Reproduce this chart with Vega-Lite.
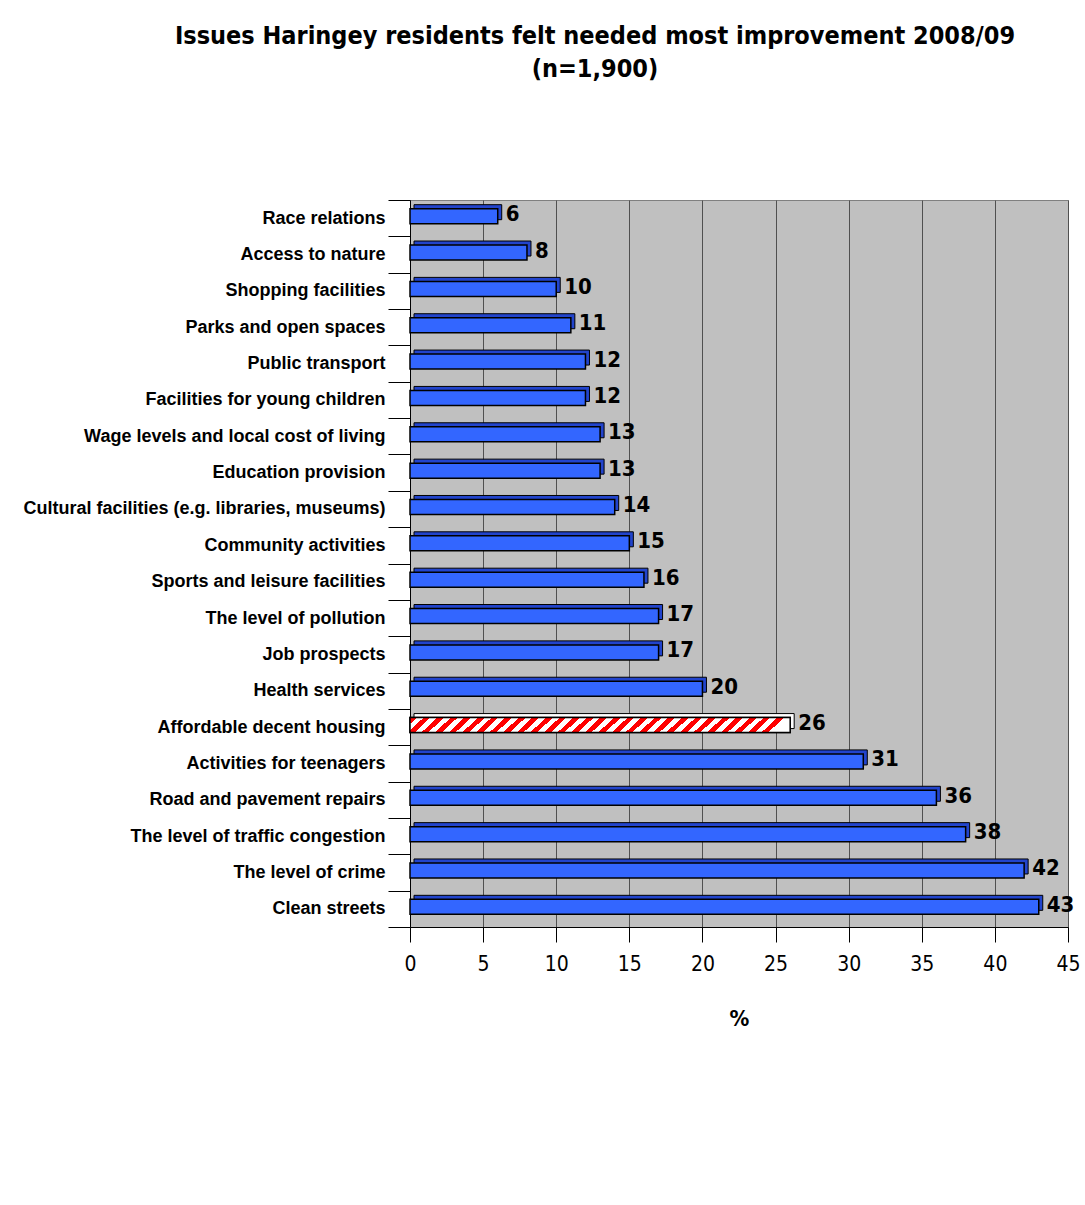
{
  "$schema": "https://vega.github.io/schema/vega-lite/v6.json",
  "autosize": "none",
  "width": 658,
  "height": 727,
  "padding": {"left": 410, "top": 200, "right": 17, "bottom": 278},
  "background": "white",
  "view": {"fill": "#c0c0c0", "stroke": "#808080", "strokeWidth": 1},
  "title": {
    "text": ["Issues Haringey residents felt needed most improvement  2008/09", "(n=1,900)"],
    "font": "DejaVu Sans Condensed, Liberation Sans Narrow, Liberation Sans",
    "fontSize": 25,
    "fontWeight": "bold",
    "color": "black",
    "lineHeight": 33,
    "anchor": "middle",
    "frame": "group",
    "dx": -144,
    "offset": 109
  },
  "data": {
    "values": [
      {"issue": "Race relations", "pct": 6, "highlight": false},
      {"issue": "Access to nature", "pct": 8, "highlight": false},
      {"issue": "Shopping facilities", "pct": 10, "highlight": false},
      {"issue": "Parks and open spaces", "pct": 11, "highlight": false},
      {"issue": "Public transport", "pct": 12, "highlight": false},
      {"issue": "Facilities for young children", "pct": 12, "highlight": false},
      {"issue": "Wage levels and local cost of living", "pct": 13, "highlight": false},
      {"issue": "Education provision", "pct": 13, "highlight": false},
      {"issue": "Cultural facilities (e.g. libraries, museums)", "pct": 14, "highlight": false},
      {"issue": "Community activities", "pct": 15, "highlight": false},
      {"issue": "Sports and leisure facilities", "pct": 16, "highlight": false},
      {"issue": "The level of pollution", "pct": 17, "highlight": false},
      {"issue": "Job prospects", "pct": 17, "highlight": false},
      {"issue": "Health services", "pct": 20, "highlight": false},
      {"issue": "Affordable decent housing", "pct": 26, "highlight": true},
      {"issue": "Activities for teenagers", "pct": 31, "highlight": false},
      {"issue": "Road and pavement repairs", "pct": 36, "highlight": false},
      {"issue": "The level of traffic congestion", "pct": 38, "highlight": false},
      {"issue": "The level of crime", "pct": 42, "highlight": false},
      {"issue": "Clean streets", "pct": 43, "highlight": false}
    ]
  },
  "encoding": {
    "y": {
      "field": "issue",
      "type": "nominal",
      "sort": null,
      "axis": {
        "title": null,
        "labelFont": "Liberation Sans",
        "labelFontSize": 18,
        "labelFontWeight": "bold",
        "labelColor": "black",
        "labelPadding": 3,
        "tickBand": "extent",
        "tickSize": 22,
        "tickColor": "black",
        "domainColor": "black",
        "labelLimit": 420
      }
    }
  },
  "layer": [
    {
      "mark": {"type": "rule", "color": "#808080", "strokeWidth": 10, "xOffset": 5},
      "encoding": {"x": {"datum": 0, "type": "quantitative"}}
    },
    {
      "mark": {"type": "bar", "size": 15, "xOffset": 4, "yOffset": -6, "stroke": "black", "strokeWidth": 1},
      "encoding": {
        "x": {
          "field": "pct",
          "type": "quantitative",
          "scale": {"domain": [0, 45], "nice": false},
          "axis": {
            "values": [0, 5, 10, 15, 20, 25, 30, 35, 40, 45],
            "title": "%",
            "titleFont": "DejaVu Sans Condensed, Liberation Sans Narrow, Liberation Sans",
            "titleFontSize": 22,
            "titleFontWeight": "bold",
            "titleColor": "black",
            "titlePadding": 34,
            "labelFont": "DejaVu Sans Condensed, Liberation Sans Narrow, Liberation Sans",
            "labelFontSize": 21,
            "labelColor": "black",
            "labelPadding": 11,
            "labelFlush": false,
            "tickSize": 15,
            "tickColor": "black",
            "domainColor": "black",
            "grid": true,
            "gridColor": "#505050",
            "gridWidth": 1
          }
        },
        "fill": {
          "condition": {"test": "datum.highlight", "value": "#ffffff"},
          "value": "#2244cc"
        }
      }
    },
    {
      "mark": {"type": "bar", "size": 15, "yOffset": -2, "fill": "#3366ff", "stroke": "black", "strokeWidth": 1.5},
      "encoding": {"x": {"field": "pct", "type": "quantitative"}}
    },
    {
      "transform": [{"filter": "datum.highlight"}],
      "mark": {
        "type": "bar",
        "size": 15,
        "yOffset": -2,
        "stroke": "black",
        "strokeWidth": 1.5,
        "fill": {
          "gradient": "linear",
          "x1": 0, "y1": 0, "x2": 1, "y2": 0.042,
          "stops": [
            {"offset": 0, "color": "red"}, {"offset": 0.017857, "color": "red"}, {"offset": 0.017857, "color": "white"}, {"offset": 0.035714, "color": "white"},
            {"offset": 0.035714, "color": "red"}, {"offset": 0.053571, "color": "red"}, {"offset": 0.053571, "color": "white"}, {"offset": 0.071429, "color": "white"},
            {"offset": 0.071429, "color": "red"}, {"offset": 0.089286, "color": "red"}, {"offset": 0.089286, "color": "white"}, {"offset": 0.107143, "color": "white"},
            {"offset": 0.107143, "color": "red"}, {"offset": 0.125, "color": "red"}, {"offset": 0.125, "color": "white"}, {"offset": 0.142857, "color": "white"},
            {"offset": 0.142857, "color": "red"}, {"offset": 0.160714, "color": "red"}, {"offset": 0.160714, "color": "white"}, {"offset": 0.178571, "color": "white"},
            {"offset": 0.178571, "color": "red"}, {"offset": 0.196429, "color": "red"}, {"offset": 0.196429, "color": "white"}, {"offset": 0.214286, "color": "white"},
            {"offset": 0.214286, "color": "red"}, {"offset": 0.232143, "color": "red"}, {"offset": 0.232143, "color": "white"}, {"offset": 0.25, "color": "white"},
            {"offset": 0.25, "color": "red"}, {"offset": 0.267857, "color": "red"}, {"offset": 0.267857, "color": "white"}, {"offset": 0.285714, "color": "white"},
            {"offset": 0.285714, "color": "red"}, {"offset": 0.303571, "color": "red"}, {"offset": 0.303571, "color": "white"}, {"offset": 0.321429, "color": "white"},
            {"offset": 0.321429, "color": "red"}, {"offset": 0.339286, "color": "red"}, {"offset": 0.339286, "color": "white"}, {"offset": 0.357143, "color": "white"},
            {"offset": 0.357143, "color": "red"}, {"offset": 0.375, "color": "red"}, {"offset": 0.375, "color": "white"}, {"offset": 0.392857, "color": "white"},
            {"offset": 0.392857, "color": "red"}, {"offset": 0.410714, "color": "red"}, {"offset": 0.410714, "color": "white"}, {"offset": 0.428571, "color": "white"},
            {"offset": 0.428571, "color": "red"}, {"offset": 0.446429, "color": "red"}, {"offset": 0.446429, "color": "white"}, {"offset": 0.464286, "color": "white"},
            {"offset": 0.464286, "color": "red"}, {"offset": 0.482143, "color": "red"}, {"offset": 0.482143, "color": "white"}, {"offset": 0.5, "color": "white"},
            {"offset": 0.5, "color": "red"}, {"offset": 0.517857, "color": "red"}, {"offset": 0.517857, "color": "white"}, {"offset": 0.535714, "color": "white"},
            {"offset": 0.535714, "color": "red"}, {"offset": 0.553571, "color": "red"}, {"offset": 0.553571, "color": "white"}, {"offset": 0.571429, "color": "white"},
            {"offset": 0.571429, "color": "red"}, {"offset": 0.589286, "color": "red"}, {"offset": 0.589286, "color": "white"}, {"offset": 0.607143, "color": "white"},
            {"offset": 0.607143, "color": "red"}, {"offset": 0.625, "color": "red"}, {"offset": 0.625, "color": "white"}, {"offset": 0.642857, "color": "white"},
            {"offset": 0.642857, "color": "red"}, {"offset": 0.660714, "color": "red"}, {"offset": 0.660714, "color": "white"}, {"offset": 0.678571, "color": "white"},
            {"offset": 0.678571, "color": "red"}, {"offset": 0.696429, "color": "red"}, {"offset": 0.696429, "color": "white"}, {"offset": 0.714286, "color": "white"},
            {"offset": 0.714286, "color": "red"}, {"offset": 0.732143, "color": "red"}, {"offset": 0.732143, "color": "white"}, {"offset": 0.75, "color": "white"},
            {"offset": 0.75, "color": "red"}, {"offset": 0.767857, "color": "red"}, {"offset": 0.767857, "color": "white"}, {"offset": 0.785714, "color": "white"},
            {"offset": 0.785714, "color": "red"}, {"offset": 0.803571, "color": "red"}, {"offset": 0.803571, "color": "white"}, {"offset": 0.821429, "color": "white"},
            {"offset": 0.821429, "color": "red"}, {"offset": 0.839286, "color": "red"}, {"offset": 0.839286, "color": "white"}, {"offset": 0.857143, "color": "white"},
            {"offset": 0.857143, "color": "red"}, {"offset": 0.875, "color": "red"}, {"offset": 0.875, "color": "white"}, {"offset": 0.892857, "color": "white"},
            {"offset": 0.892857, "color": "red"}, {"offset": 0.910714, "color": "red"}, {"offset": 0.910714, "color": "white"}, {"offset": 0.928571, "color": "white"},
            {"offset": 0.928571, "color": "red"}, {"offset": 0.946429, "color": "red"}, {"offset": 0.946429, "color": "white"}, {"offset": 0.964286, "color": "white"},
            {"offset": 0.964286, "color": "red"}, {"offset": 0.982143, "color": "red"}, {"offset": 0.982143, "color": "white"}, {"offset": 1, "color": "white"}
          ]
        }
      },
      "encoding": {"x": {"field": "pct", "type": "quantitative"}}
    },
    {
      "mark": {
        "type": "text",
        "align": "left",
        "baseline": "middle",
        "dx": 8,
        "dy": -4,
        "font": "DejaVu Sans Condensed, Liberation Sans Narrow, Liberation Sans",
        "fontSize": 22,
        "fontWeight": "bold",
        "color": "black"
      },
      "encoding": {
        "x": {"field": "pct", "type": "quantitative"},
        "text": {"field": "pct", "type": "quantitative"}
      }
    }
  ]
}
